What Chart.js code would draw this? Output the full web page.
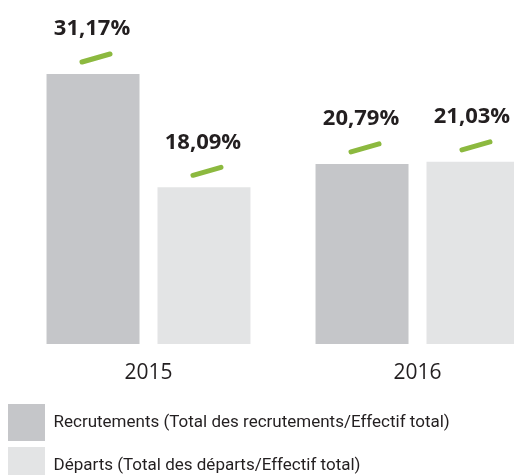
<!DOCTYPE html>
<html>
<head>
<meta charset="utf-8">
<script src="https://cdn.jsdelivr.net/npm/chart.js@4/dist/chart.umd.min.js"></script>
<style>
  html, body { margin: 0; padding: 0; background: #fff; overflow: hidden; }
  #wrap { width: 552px; height: 494px; }
</style>
</head>
<body>
<div id="wrap"><canvas id="chart" width="552" height="494"></canvas></div>
<script>
// Taux de recrutement / départ
const years = ['2015', '2016'];
const recrutements = [31.17, 20.79];
const departs = [18.09, 21.03];
const seriesNames = [
    'Recrutements (Total des recrutements/Effectif total)',
    'Départs (Total des départs/Effectif total)'
];

// value labels with the little green tick above each bar
const valueMarks = {
    id: 'valueMarks',
    afterDatasetsDraw(chart) {
        const ctx = chart.ctx;
        chart.data.datasets.forEach((ds, di) => {
            const meta = chart.getDatasetMeta(di);
            meta.data.forEach((bar, i) => {
                const x = bar.x, y = bar.y;
                ctx.save();
                ctx.strokeStyle = '#8cb93f';
                ctx.lineWidth = 5;
                ctx.lineCap = 'round';
                ctx.beginPath();
                ctx.moveTo(x + 3 - 14, y - 12);
                ctx.lineTo(x + 3 + 14, y - 20);
                ctx.stroke();
                ctx.fillStyle = '#231f20';
                ctx.font = 'bold 22px "Open Sans", sans-serif';
                ctx.textAlign = 'center';
                ctx.textBaseline = 'middle';
                ctx.fillText(ds.data[i].toFixed(2).replace('.', ',') + '%', x - 1, y - 45);
                ctx.restore();
            });
        });
    }
};

new Chart(document.getElementById('chart'), {
    type: 'bar',
    data: {
        labels: years,
        datasets: [
            { label: seriesNames[0], data: recrutements, backgroundColor: '#c5c6c9' },
            { label: seriesNames[1], data: departs, backgroundColor: '#e3e4e5' }
        ]
    },
    options: {
        responsive: false,
        animation: false,
        devicePixelRatio: 1,
        layout: { padding: { left: 2, right: 0, top: 0, bottom: 0 } },
        datasets: { bar: { categoryPercentage: 0.825, barPercentage: 0.838 } },
        scales: {
            x: {
                grid: { display: false, drawTicks: false },
                border: { display: false },
                ticks: { color: '#231f20', font: { family: '"Open Sans", sans-serif', size: 21 }, padding: 16 },
                afterFit(scale) { scale.height = 54; }
            },
            y: {
                min: 0,
                max: 39.71,
                grid: { display: false, drawTicks: false },
                border: { display: false },
                ticks: { display: false },
                afterFit(scale) { scale.width = 12; }
            }
        },
        plugins: {
            legend: {
                position: 'bottom',
                align: 'start',
                labels: {
                    boxWidth: 37,
                    boxHeight: 37,
                    padding: 6,
                    color: '#231f20',
                    font: { family: 'Roboto, "Open Sans", sans-serif', size: 17 }
                }
            },
            tooltip: { enabled: false }
        }
    },
    plugins: [valueMarks]
});
</script>
</body>
</html>
